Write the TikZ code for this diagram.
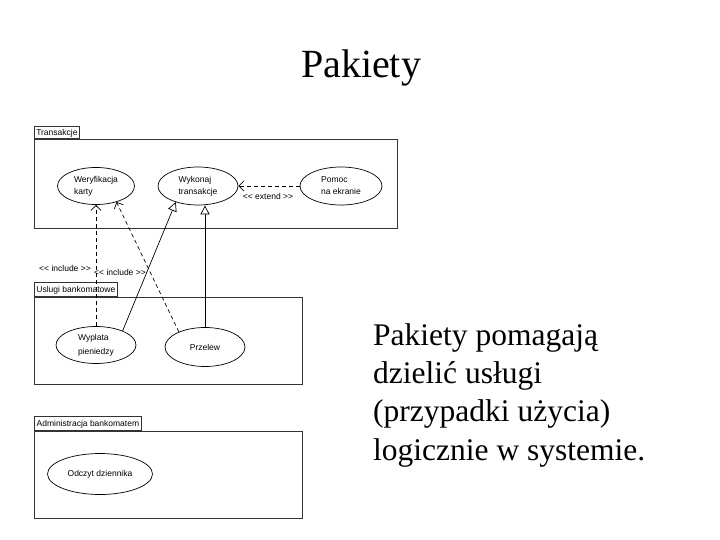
\documentclass[tikz,border=0pt]{standalone}
\usepackage{fontspec}
\setmainfont{Liberation Serif}
\setsansfont{Liberation Sans}
\usetikzlibrary{shapes.geometric,arrows.meta}
\begin{document}
\begin{tikzpicture}[x=1pt,y=-1pt,
  pkgline/.style={draw=black!80,line width=0.8pt},
  tabbox/.style={pkgline,font=\sffamily\fontsize{8.5}{9}\selectfont,inner xsep=1pt,inner ysep=0pt,minimum height=12pt,anchor=south west,text height=7pt,text depth=2pt},
  usecase/.style={draw=black,line width=0.7pt,ellipse,inner sep=0pt,align=left,font=\sffamily\fontsize{8.5}{12}\selectfont},
  lbl/.style={font=\sffamily\fontsize{8.5}{9}\selectfont,inner sep=0pt},
  dep/.style={line width=0.7pt,dash pattern=on 4pt off 3pt,-{Straight Barb[length=5pt,width=10pt]}},
  gen/.style={line width=0.7pt,-{Triangle[open,length=9pt,width=9pt]}}
]
\useasboundingbox (0,0) rectangle (720,540);

% title
\node[font=\fontsize{40}{48}\selectfont,anchor=base,inner sep=0pt] (title) at (361,78) {Pakiety};

% body text (base = baseline of last line)
\node[font=\fontsize{31.5}{38.3}\selectfont,anchor=base west,align=left,inner sep=0pt] (txt) at (373,460)
  {Pakiety pomagają\\dzielić usługi\\(przypadki użycia)\\logicznie w systemie.};

% packages
\draw[pkgline] (34,139) rectangle (397,228);
\node[tabbox,minimum width=45pt] (tabT) at (34,139) {Transakcje};
\draw[pkgline] (34,297) rectangle (302,384);
\node[tabbox,minimum width=83pt,minimum height=14pt] (tabU) at (34,297) {Uslugi bankomatowe};
\draw[pkgline] (34,431) rectangle (302,518);
\node[tabbox,minimum width=107pt,minimum height=14pt] (tabA) at (34,431) {Administracja bankomatem};

% use cases
\node[usecase,minimum width=77pt,minimum height=37pt] (wer) at (96,186) {Weryfikacja\\karty};
\node[usecase,minimum width=80pt,minimum height=38pt] (wyk) at (198,186) {Wykonaj\\transakcje};
\node[usecase,minimum width=82pt,minimum height=38pt] (pom) at (341,186) {Pomoc\\na ekranie};
\node[usecase,minimum width=80pt,minimum height=37pt,font=\sffamily\fontsize{8.5}{14}\selectfont] (wyp) at (96,345) {Wyplata\\pieniedzy};
\node[usecase,minimum width=80pt,minimum height=39pt] (prz) at (205,347) {Przelew};
\node[usecase,minimum width=105pt,minimum height=41pt] (odc) at (100,474) {Odczyt dziennika};

% connectors
\draw[dep] (pom.west) -- (wyk.east);
\node[lbl] (lext) at (268,196) {<{}< extend >{}>};

\draw[dep] (wyp.north) -- (wer.south);
\node[lbl] (linc1) at (65,268) {<{}< include >{}>};

\draw[dep] (prz.150) -- (wer.-38);
\node[lbl] (linc2) at (120,272) {<{}< include >{}>};

\draw[gen] (wyp.28) -- (wyk.216);
\draw[gen] (prz.north) -- (prz.north |- wyk.south);
\end{tikzpicture}
\end{document}
